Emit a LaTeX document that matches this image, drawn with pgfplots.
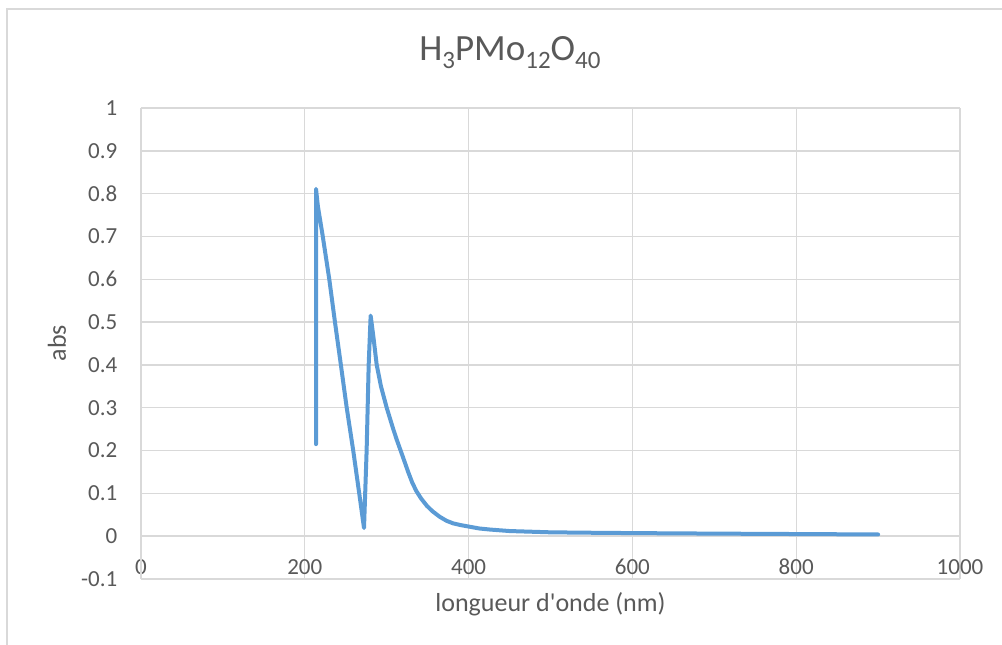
\documentclass[border=0pt]{standalone}
\usepackage{fontspec}
\setmainfont{Carlito}
\usepackage{pgfplots}
\pgfplotsset{compat=1.18}
\definecolor{gridc}{HTML}{D9D9D9}
\definecolor{axisc}{HTML}{BFBFBF}
\definecolor{textc}{HTML}{595959}
\definecolor{serie}{HTML}{5B9BD5}
\begin{document}
\begin{tikzpicture}
\useasboundingbox (-141pt,-66pt) rectangle (861pt,579pt);
\draw[gridc, line width=1.5pt] (-134pt,-80pt) -- (-134pt,570pt) -- (900pt,570pt);
\begin{axis}[
  scale only axis,
  width=819pt, height=471pt,
  xmin=0, xmax=1000, ymin=-0.1, ymax=1,
  xtick={0,200,400,600,800,1000},
  xticklabels={0,200,400,600,800,1000},
  ytick={-0.1,0,0.1,0.2,0.3,0.4,0.5,0.6,0.7,0.8,0.9,1},
  yticklabels={-0.1,0,0.1,0.2,0.3,0.4,0.5,0.6,0.7,0.8,0.9,1},
  extra x ticks={0}, extra x tick labels={},
  extra y ticks={0}, extra y tick labels={},
  extra tick style={grid style={axisc, line width=1.5pt}, major tick length=0pt},
  major tick length=0pt,
  grid=major,
  major grid style={gridc, line width=1.4pt},
  axis line style={draw=none},
  tick label style={font=\fontsize{23}{27}\selectfont, text=textc},
  xticklabel style={anchor=center, inner sep=0pt, yshift=12pt},
  yticklabel style={anchor=east, inner sep=0pt, xshift=-23.5pt},
  xlabel={longueur d\textquotesingle onde (nm)},
  ylabel={abs},
  label style={font=\fontsize{26}{30}\selectfont, text=textc},
  xlabel style={at={(axis description cs:0.5,-0.0531)}, anchor=center},
  ylabel style={at={(axis description cs:-0.1026,0.501)}, anchor=center, rotate=0},
  title={H\raisebox{-8pt}{\fontsize{25}{25}\selectfont 3}PMo\raisebox{-8pt}{\fontsize{25}{25}\selectfont 12}O\raisebox{-8pt}{\fontsize{25}{25}\selectfont 40}},
  title style={at={(axis description cs:0.4505,1.0877)}, anchor=base, font=\fontsize{37}{40}\selectfont, text=textc},
  clip=false,
]
\addplot[serie, line width=4pt, line join=round, line cap=round] coordinates {
(213.7,0.215) (213.7,0.25) (213.7,0.30) (213.7,0.811)
(216,0.77) (221.8,0.702) (229.9,0.600) (236.9,0.499) (244.2,0.398)
(251.1,0.301) (259.2,0.199) (266.6,0.098) (272.3,0.019)
(275.5,0.20) (278,0.40) (280.4,0.515)
(283.6,0.468) (287.8,0.40) (293,0.35) (300,0.30) (308,0.25)
(312.5,0.224) (317,0.200) (322,0.173) (326.4,0.149) (331,0.126)
(336,0.106) (342,0.088) (349,0.071) (356,0.058) (365,0.045)
(373,0.036) (381,0.030) (390,0.026) (400,0.0225) (413,0.018) (426,0.0155)
(450,0.012) (500,0.0090) (550,0.0080) (600,0.0072)
(700,0.006) (800,0.005) (900,0.004)
};
\end{axis}
\end{tikzpicture}
\end{document}
